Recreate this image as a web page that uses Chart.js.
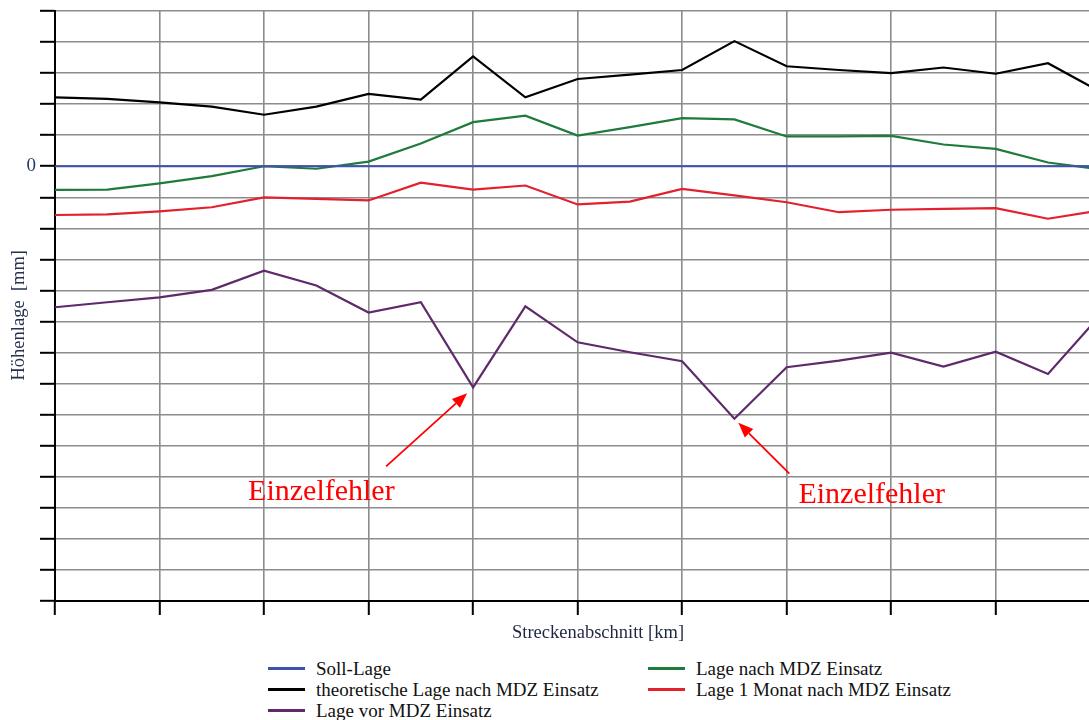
<!DOCTYPE html>
<html lang="de">
<head>
<meta charset="utf-8">
<title>Höhenlage</title>
<script src="https://cdn.jsdelivr.net/npm/chart.js@4.4.1/dist/chart.umd.min.js"></script>
<style>
  html, body { margin: 0; padding: 0; background: #fff; overflow: hidden; }
  #wrap { position: relative; width: 1089px; height: 720px; overflow: hidden; }
  #chart { position: absolute; left: 0; top: 0; }
  #legend {
    position: absolute; left: 268px; top: 658px;
    display: grid; grid-template-columns: 380px 380px; grid-template-rows: 21px 21px 21px;
    grid-auto-flow: column;
    font-family: "Liberation Serif", "DejaVu Serif", serif; font-size: 19px; color: #111;
  }
  .item { display: flex; align-items: center; white-space: nowrap; line-height: 21px; }
  .swatch { width: 37px; height: 3px; margin-right: 11px; flex: none; }
</style>
</head>
<body>
<div id="wrap">
  <canvas id="chart" width="1141" height="650"></canvas>
  <div id="legend"></div>
</div>
<script>
// Streckenabschnitt positions [km]
const km = [0, 0.5, 1, 1.5, 2, 2.5, 3, 3.5, 4, 4.5, 5, 5.5, 6, 6.5, 7, 7.5, 8, 8.5, 9, 9.5, 10];

// Höhenlage values per series
const sollLage      = [0, 0, 0, 0, 0, 0, 0, 0, 0, 0, 0, 0, 0, 0, 0, 0, 0, 0, 0, 0, 0];
const theoretisch   = [2.22, 2.17, 2.06, 1.92, 1.66, 1.92, 2.33, 2.15, 3.54, 2.22, 2.81, 2.95, 3.10, 4.03, 3.22, 3.10, 3.00, 3.18, 2.98, 3.32, 2.40];
const vorMDZ        = [-4.54, -4.38, -4.22, -3.98, -3.36, -3.84, -4.71, -4.38, -7.12, -4.51, -5.67, -5.99, -6.28, -8.13, -6.47, -6.26, -6.00, -6.45, -5.97, -6.69, -4.80];
const nachMDZ       = [-0.76, -0.75, -0.55, -0.32, 0.00, -0.08, 0.15, 0.73, 1.42, 1.63, 0.99, 1.26, 1.55, 1.51, 0.96, 0.96, 0.98, 0.70, 0.56, 0.12, -0.10];
const einMonatNach  = [-1.57, -1.55, -1.45, -1.32, -1.00, -1.05, -1.10, -0.53, -0.75, -0.62, -1.23, -1.14, -0.73, -0.94, -1.16, -1.48, -1.40, -1.37, -1.35, -1.69, -1.42];

const seriesNames = [
  'Soll-Lage',
  'theoretische Lage nach MDZ Einsatz',
  'Lage vor MDZ Einsatz',
  'Lage nach MDZ Einsatz',
  'Lage 1 Monat nach MDZ Einsatz'
];
const seriesValues = [sollLage, theoretisch, vorMDZ, nachMDZ, einMonatNach];
const seriesColors = ['#4150b0', '#000000', '#5e2a6c', '#1e7b3c', '#e3202c'];

// y-axis range and tick step [mm]
const yMin = -14, yMax = 5, yStep = 1;
const xMax = 10.39;

// Marked single faults on the "vor MDZ" series (index into km)
const faultIdx = [8, 13];
const faultText = 'Einzelfehler';

const datasets = seriesValues.map((vals, i) => ({
  label: seriesNames[i],
  data: km.map((x, j) => ({ x: x, y: vals[j] })),
  borderColor: seriesColors[i],
  backgroundColor: seriesColors[i],
  borderWidth: 2.2,
  pointRadius: 0,
  tension: 0,
  fill: false
}));

const serif = '"Liberation Serif", "DejaVu Serif", serif';

function arrow(ctx, x0, y0, x1, y1) {
  const a = Math.atan2(y1 - y0, x1 - x0);
  const hl = 15, hw = 6;
  const bx = x1 - hl * Math.cos(a), by = y1 - hl * Math.sin(a);
  ctx.beginPath();
  ctx.moveTo(x0, y0);
  ctx.lineTo(bx, by);
  ctx.stroke();
  ctx.beginPath();
  ctx.moveTo(x1, y1);
  ctx.lineTo(bx + hw * Math.sin(a), by - hw * Math.cos(a));
  ctx.lineTo(bx - hw * Math.sin(a), by + hw * Math.cos(a));
  ctx.closePath();
  ctx.fill();
}

// Arrows and labels pointing at the single faults
const faultMarks = {
  id: 'faultMarks',
  afterDatasetsDraw(chart) {
    const ctx = chart.ctx;
    const xs = chart.scales.x, ys = chart.scales.y;
    const layouts = [
      { tip: [-6, 6], tail: [-87, 79], text: [-225, 105] },
      { tip: [4, 4], tail: [55, 55], text: [64, 76] }
    ];
    ctx.save();
    ctx.strokeStyle = '#ff0000';
    ctx.fillStyle = '#ff0000';
    ctx.lineWidth = 1.8;
    faultIdx.forEach((idx, k) => {
      const px = xs.getPixelForValue(km[idx]);
      const py = ys.getPixelForValue(vorMDZ[idx]);
      const L = layouts[k];
      const tx = px + L.tip[0], ty = py + L.tip[1];
      arrow(ctx, px + L.tail[0], py + L.tail[1], tx, ty);
      ctx.font = '30px ' + serif;
      ctx.textBaseline = 'middle';
      ctx.textAlign = 'left';
      ctx.fillText(faultText, px + L.text[0], py + L.text[1]);
    });
    ctx.restore();
  }
};

new Chart(document.getElementById('chart'), {
  type: 'line',
  data: { datasets: datasets },
  options: {
    responsive: false,
    animation: false,
    devicePixelRatio: 1,
    layout: { padding: { top: 11, right: 0, bottom: 0, left: 0 } },
    plugins: { legend: { display: false }, tooltip: { enabled: false } },
    scales: {
      x: {
        type: 'linear',
        min: 0,
        max: xMax,
        afterBuildTicks(scale) {
          scale.ticks = scale.ticks.filter(t => Math.abs(t.value - Math.round(t.value)) < 1e-6);
        },
        afterFit(scale) {
          scale.height = 49;
          scale.paddingLeft = 0;
          scale.paddingRight = 0;
        },
        ticks: { stepSize: 1, callback: () => '', font: { size: 1 } },
        grid: { color: '#8c8c8c', lineWidth: 1.6, tickColor: '#000', tickWidth: 2, tickLength: 14 },
        border: { display: true, color: '#000', width: 2 },
        title: {
          display: true,
          text: 'Streckenabschnitt [km]',
          color: '#1d2740',
          font: { family: serif, size: 18.5 },
          padding: { top: 0, bottom: 6 }
        }
      },
      y: {
        type: 'linear',
        min: yMin,
        max: yMax,
        afterFit(scale) {
          scale.width = 55;
          scale.paddingTop = 0;
          scale.paddingBottom = 0;
        },
        ticks: {
          stepSize: yStep,
          padding: 4,
          color: '#243a6e',
          font: { family: serif, size: 19 },
          callback: (v) => (v === 0 ? '0' : '')
        },
        grid: { color: '#8c8c8c', lineWidth: 1.6, tickColor: '#000', tickWidth: 2, tickLength: 15 },
        border: { display: true, color: '#000', width: 2 },
        title: {
          display: true,
          text: 'Höhenlage  [mm]    ',
          color: '#25314e',
          font: { family: serif, size: 18.5 },
          padding: { top: 8, bottom: 0 }
        }
      }
    }
  },
  plugins: [faultMarks]
});

// Legend below the plot, two columns
const legend = document.getElementById('legend');
seriesNames.forEach((name, i) => {
  const item = document.createElement('div');
  item.className = 'item';
  const sw = document.createElement('span');
  sw.className = 'swatch';
  sw.style.background = seriesColors[i];
  const label = document.createElement('span');
  label.textContent = name;
  item.appendChild(sw);
  item.appendChild(label);
  legend.appendChild(item);
});
</script>
</body>
</html>
